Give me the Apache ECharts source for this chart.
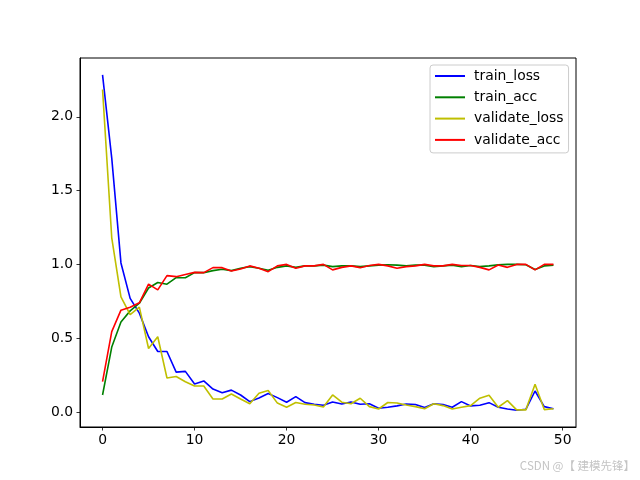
<!DOCTYPE html>
<html>
<head>
<meta charset="utf-8">
<script src="https://cdn.jsdelivr.net/npm/echarts@6/dist/echarts.min.js"></script>
<style>html,body{margin:0;padding:0;background:#fff}#c{width:640px;height:480px}</style>
</head>
<body>
<div id="c"></div>
<script>
var epochs = [];
for (var i = 0; i < 50; i++) epochs.push(i);

var trainLoss = [2.285, 1.72, 1.01, 0.77, 0.67, 0.51, 0.41, 0.41, 0.27, 0.275,
  0.19, 0.21, 0.155, 0.13, 0.148, 0.115, 0.07, 0.095, 0.125, 0.097,
  0.066, 0.104, 0.063, 0.052, 0.045, 0.068, 0.054, 0.068, 0.052, 0.056,
  0.025, 0.032, 0.041, 0.054, 0.05, 0.03, 0.056, 0.05, 0.032, 0.07,
  0.041, 0.045, 0.063, 0.032, 0.02, 0.012, 0.018, 0.142, 0.036, 0.022];
var trainAcc = [0.115, 0.44, 0.61, 0.685, 0.737, 0.84, 0.877, 0.866, 0.91, 0.91,
  0.944, 0.944, 0.958, 0.967, 0.958, 0.974, 0.985, 0.974, 0.96, 0.98,
  0.99, 0.98, 0.99, 0.99, 0.995, 0.985, 0.99, 0.99, 0.985, 0.99,
  0.995, 0.998, 0.995, 0.99, 0.995, 0.995, 0.985, 0.99, 0.995, 0.985,
  0.993, 0.985, 0.99, 0.997, 1.0, 1.0, 0.998, 0.965, 0.99, 0.995];
var validateLoss = [2.185, 1.18, 0.78, 0.66, 0.71, 0.43, 0.51, 0.23, 0.24, 0.205,
  0.176, 0.176, 0.088, 0.088, 0.122, 0.088, 0.056, 0.127, 0.145, 0.06,
  0.032, 0.064, 0.052, 0.047, 0.034, 0.115, 0.066, 0.056, 0.093, 0.036,
  0.02, 0.064, 0.061, 0.047, 0.036, 0.022, 0.056, 0.043, 0.02, 0.032,
  0.043, 0.093, 0.113, 0.032, 0.077, 0.014, 0.014, 0.188, 0.016, 0.022];
var validateAcc = [0.205, 0.544, 0.69, 0.71, 0.74, 0.866, 0.827, 0.924, 0.917, 0.932,
  0.946, 0.944, 0.978, 0.978, 0.955, 0.969, 0.99, 0.974, 0.951, 0.99,
  1.0, 0.974, 0.99, 0.99, 1.0, 0.963, 0.98, 0.99, 0.978, 0.993,
  1.0, 0.99, 0.974, 0.985, 0.99, 1.0, 0.99, 0.99, 1.0, 0.993,
  0.993, 0.98, 0.963, 0.996, 0.98, 1.0, 1.0, 0.963, 1.0, 1.0];

var xTicks = [0, 10, 20, 30, 40, 50];
var yTicks = [0, 0.5, 1.0, 1.5, 2.0];
var seriesNames = ['train_loss', 'train_acc', 'validate_loss', 'validate_acc'];
var seriesValues = [trainLoss, trainAcc, validateLoss, validateAcc];
var seriesColors = ['#0000ff', '#008000', '#bfbf00', '#ff0000'];

function pairs(vals) { return epochs.map(function (e, i) { return [e, vals[i]]; }); }

var font = 'DejaVu Sans';
var chart = echarts.init(document.getElementById('c'), null, {renderer: 'canvas'});
chart.setOption({
  animation: false,
  backgroundColor: '#ffffff',
  grid: {left: 80, right: 64, top: 58, bottom: 53, show: true, borderColor: '#000', borderWidth: 1, backgroundColor: 'transparent'},
  xAxis: {
    type: 'value', min: -2.45, max: 51.45,
    axisLine: {show: true, onZero: false, lineStyle: {color: '#000', width: 1}},
    axisTick: {show: true, inside: false, length: 3.5, customValues: xTicks, lineStyle: {color: '#000', width: 0.8}},
    axisLabel: {show: true, customValues: xTicks, margin: 6, color: '#000', fontFamily: font, fontSize: 13.9,
      formatter: function (v) { return String(v); }},
    splitLine: {show: false}
  },
  yAxis: {
    type: 'value', min: -0.102, max: 2.399,
    axisLine: {show: true, onZero: false, lineStyle: {color: '#000', width: 1}},
    axisTick: {show: true, inside: false, length: 3.5, customValues: yTicks, lineStyle: {color: '#000', width: 0.8}},
    axisLabel: {show: true, customValues: yTicks, margin: 7, color: '#000', fontFamily: font, fontSize: 13.9,
      formatter: function (v) { return v.toFixed(1); }},
    splitLine: {show: false}
  },
  legend: {
    orient: 'vertical', left: 430, top: 65,
    data: seriesNames,
    itemWidth: 30, itemHeight: 14, itemGap: 7.3,
    padding: [4, 5, 6, 4],
    borderColor: '#cccccc', borderWidth: 1, borderRadius: 3,
    backgroundColor: 'rgba(255,255,255,0.8)',
    itemStyle: {color: 'transparent', borderWidth: 0, opacity: 0},
    lineStyle: {width: 2},
    textStyle: {color: '#000', fontFamily: font, fontSize: 13.9, padding: [0, 0, 0, 4]}
  },
  graphic: [{
    type: 'text', right: 5, top: 460,
    style: {text: 'CSDN @【 建模先锋】', fill: '#c4c4c4', font: '11.5px "Noto Sans CJK SC"'}
  }],
  series: seriesNames.map(function (n, k) {
    return {
      name: n, type: 'line', data: pairs(seriesValues[k]),
      symbol: 'none', showSymbol: false,
      lineStyle: {color: seriesColors[k], width: 1.6},
      itemStyle: {color: seriesColors[k]}
    };
  })
});
</script>
</body>
</html>
